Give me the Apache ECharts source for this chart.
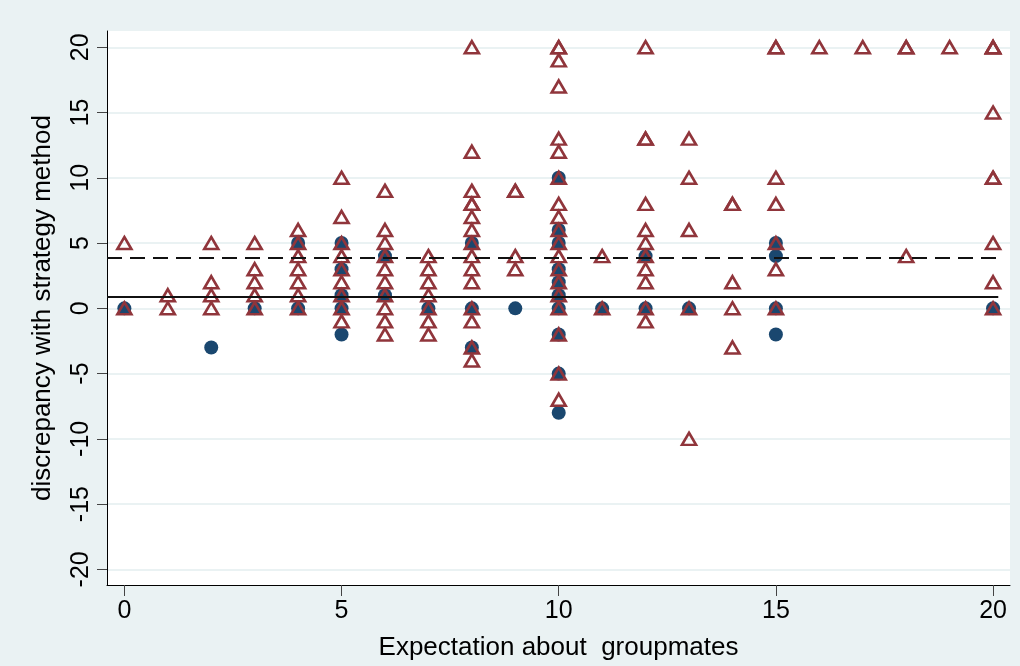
<!DOCTYPE html>
<html>
<head>
<meta charset="utf-8">
<script src="https://cdn.jsdelivr.net/npm/echarts@6/dist/echarts.min.js"></script>
<style>
html, body { margin: 0; padding: 0; background: #eaf2f3; }
#chart { width: 1020px; height: 666px; }
</style>
</head>
<body>
<div id="chart"></div>
<script>
// expectation value -> discrepancy values at that expectation
const circleExpect = [0, 2, 3, 4, 5, 6, 7, 8, 9, 10, 11, 12, 13, 15, 20];
const circleDisc = [
	[0], [-3], [0], [5, 0], [5, 3, 1, 0, -2], [4, 1], [0], [5, 0, -3], [0],
	[10, 6, 5, 3, 2, 1, 0, -2, -5, -8], [0], [4, 0], [0], [5, 4, 0, -2], [0],
];

// repeated values = several observations on the same spot
const triExpect = [0, 1, 2, 3, 4, 5, 6, 7, 8, 9, 10, 11, 12, 13, 14, 15, 16, 17, 18, 19, 20];
const triDisc = [
	[5, 0],
	[1, 0],
	[5, 2, 1, 0],
	[5, 3, 2, 1, 0],
	[6, 5, 4, 3, 2, 1, 0],
	[10, 7, 5, 4, 3, 2, 1, 0, -1],
	[9, 6, 5, 4, 3, 2, 1, 0, -1, -2],
	[4, 3, 2, 1, 0, -1, -2],
	[20, 12, 9, 8, 8, 7, 6, 5, 4, 3, 2, 0, -1, -3, -4],
	[9, 9, 4, 3],
	[20, 20, 19, 17, 13, 12, 10, 8, 7, 6, 5, 4, 3, 2, 1, 0, -2, -5, -7],
	[4, 0],
	[20, 13, 13, 8, 6, 5, 4, 3, 2, 0, -1],
	[13, 10, 6, 0, -10],
	[8, 8, 2, 0, -3],
	[20, 20, 10, 8, 5, 3, 0],
	[20],
	[20],
	[20, 20, 4],
	[20],
	[20, 20, 20, 15, 10, 10, 5, 2, 0],
];

// reference lines (solid, dashed)
const refSolid = 0.85;
const refDashed = 3.86;
const refSpan = [-0.4, 20.12];

const xTicks = [0, 5, 10, 15, 20];
const yTicks = [-20, -15, -10, -5, 0, 5, 10, 15, 20];
const xRange = [-0.4, 20.39];
const yRange = [-21.2, 21.25];

function toPoints(xs, groups) {
	const out = [];
	xs.forEach((x, i) => groups[i].forEach((y) => out.push([x, y])));
	return out;
}

const font = 'Liberation Sans, Arial, Helvetica, sans-serif';

const chart = echarts.init(document.getElementById('chart'));
chart.setOption({
	backgroundColor: '#eaf2f3',
	animation: false,
	grid: {
		left: 107,
		right: 10,
		top: 31,
		bottom: 80,
		show: true,
		backgroundColor: '#ffffff',
		borderWidth: 0,
	},
	xAxis: {
		type: 'value',
		min: xRange[0],
		max: xRange[1],
		name: 'Expectation about  groupmates',
		nameLocation: 'middle',
		nameGap: 50,
		nameTextStyle: { fontFamily: font, fontSize: 26, color: '#000' },
		axisLine: { show: true, onZero: false, lineStyle: { color: '#000', width: 1 } },
		axisTick: { show: true, length: 11, customValues: xTicks, lineStyle: { color: '#444', width: 1 } },
		axisLabel: { customValues: xTicks, margin: 14, fontFamily: font, fontSize: 25, color: '#000' },
		splitLine: { show: false },
	},
	yAxis: {
		type: 'value',
		min: yRange[0],
		max: yRange[1],
		name: 'discrepancy with strategy method',
		nameLocation: 'middle',
		nameGap: 51,
		nameTextStyle: { fontFamily: font, fontSize: 26, color: '#000' },
		axisLine: { show: true, onZero: false, lineStyle: { color: '#000', width: 1 } },
		axisTick: { show: true, length: 10, customValues: yTicks, lineStyle: { color: '#444', width: 1 } },
		axisLabel: { customValues: yTicks, rotate: 90, margin: 13, fontFamily: font, fontSize: 25, color: '#000' },
		splitLine: { show: true, lineStyle: { color: '#eaf2f3', width: 2 } },
	},
	series: [
		{
			type: 'scatter',
			z: 1,
			data: [],
			markLine: {
				silent: true,
				symbol: ['none', 'none'],
				label: { show: false },
				data: [
					[
						{ coord: [refSpan[0], refSolid], lineStyle: { type: 'solid', color: '#111', width: 2 } },
						{ coord: [refSpan[1], refSolid] },
					],
					[
						{ coord: [refSpan[0], refDashed], lineStyle: { type: [15, 8], color: '#111', width: 2 } },
						{ coord: [refSpan[1], refDashed] },
					],
				],
			},
		},
		{
			type: 'scatter',
			z: 2,
			symbol: 'circle',
			symbolSize: 14,
			itemStyle: { color: '#1a476f', opacity: 1 },
			data: toPoints(circleExpect, circleDisc),
		},
		{
			type: 'scatter',
			z: 3,
			symbol: 'triangle',
			symbolSize: [14, 12],
			itemStyle: { color: 'rgba(255,255,255,0)', borderColor: '#90353b', borderWidth: 2.6, opacity: 1 },
			data: toPoints(triExpect, triDisc),
		},
	],
});
</script>
</body>
</html>
